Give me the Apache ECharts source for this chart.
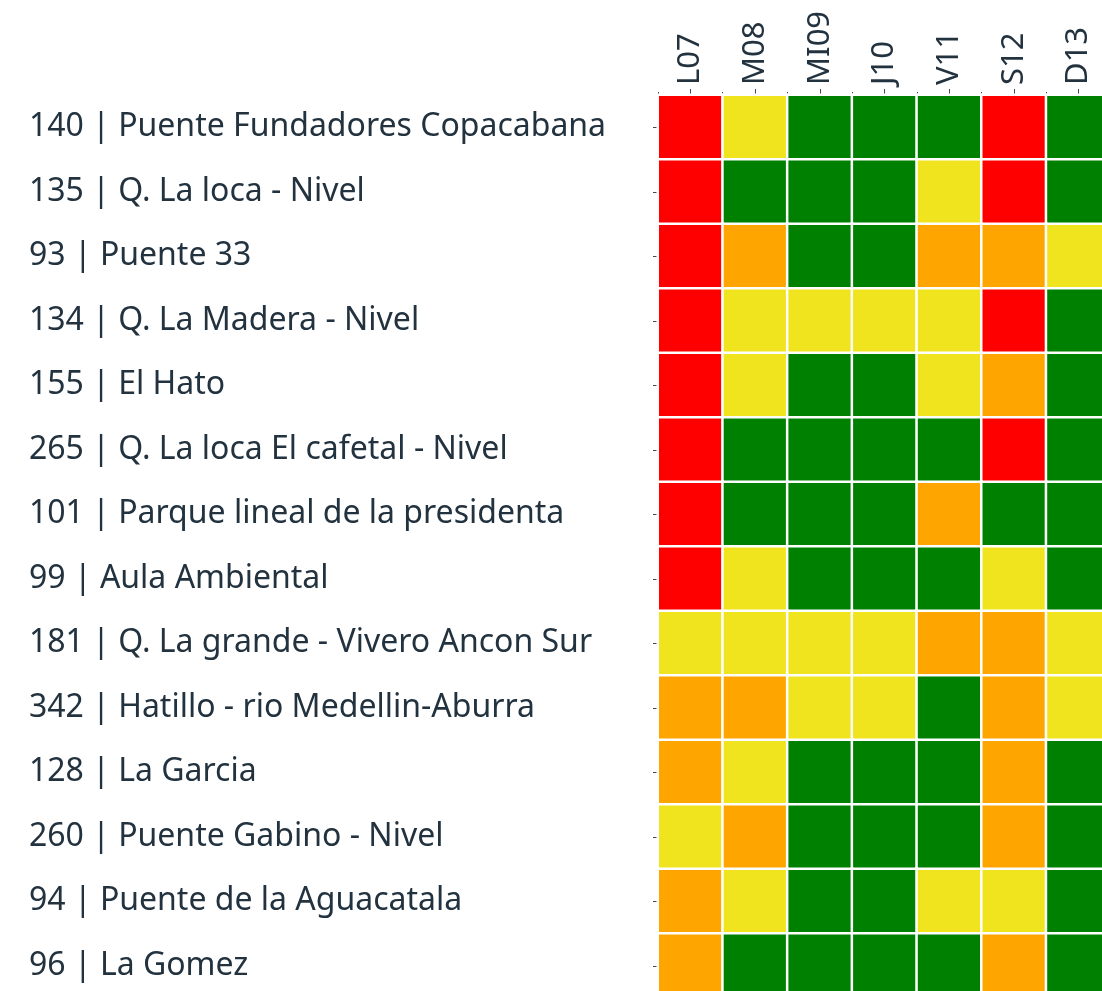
<!DOCTYPE html>
<html><head><meta charset="utf-8">
<script src="https://cdn.jsdelivr.net/npm/echarts@6/dist/echarts.min.js"></script>
<style>html,body{margin:0;padding:0;background:#fff}#c{width:1102px;height:991px}</style>
</head><body><div id="c"></div>
<script>
const days = ['L07','M08','MI09','J10','V11','S12','D13'];
const stations = [
  '140 | Puente Fundadores Copacabana',
  '135 | Q. La loca - Nivel',
  '93 | Puente 33',
  '134 | Q. La Madera - Nivel',
  '155 | El Hato',
  '265 | Q. La loca El cafetal - Nivel',
  '101 | Parque lineal de la presidenta',
  '99 | Aula Ambiental',
  '181 | Q. La grande - Vivero Ancon Sur',
  '342 | Hatillo - rio Medellin-Aburra',
  '128 | La Garcia',
  '260 | Puente Gabino - Nivel',
  '94 | Puente de la Aguacatala',
  '96 | La Gomez'
];
// 0 = green, 1 = yellow, 2 = orange, 3 = red
const levels = [
  [3,1,0,0,0,3,0],
  [3,0,0,0,1,3,0],
  [3,2,0,0,2,2,1],
  [3,1,1,1,1,3,0],
  [3,1,0,0,1,2,0],
  [3,0,0,0,0,3,0],
  [3,0,0,0,2,0,0],
  [3,1,0,0,0,1,0],
  [1,1,1,1,2,2,1],
  [2,2,1,1,0,2,1],
  [2,1,0,0,0,2,0],
  [1,2,0,0,0,2,0],
  [2,1,0,0,1,1,0],
  [2,0,0,0,0,2,0]
];
const levelColors = ['#008000','#f0e41e','#ffa500','#ff0000'];

const data = [];
levels.forEach((row, r) => row.forEach((v, c) => data.push([c, r, v])));

const txt = '#22323f';
const font = '"Noto Sans", sans-serif';
const chart = echarts.init(document.getElementById('c'), null, {renderer:'canvas'});
chart.setOption({
  animation:false,
  grid:[{left:658, top:95, width:7*64.7, height:14*64.5, containLabel:false, outerBoundsMode:'none'}],
  xAxis:[
    {type:'category', data:days, position:'top', gridIndex:0,
     axisLine:{show:true, lineStyle:{color:'#3a4a5a', width:1}},
     axisTick:{show:true, alignWithLabel:true, length:6, lineStyle:{color:'#3a4a5a'}},
     axisLabel:{rotate:-90, fontSize:31, color:txt, fontFamily:font, margin:10},
     splitLine:{show:false}},
    {type:'category', data:days, position:'top', gridIndex:0,
     axisLine:{show:false},
     axisTick:{show:true, alignWithLabel:false, length:3, lineStyle:{color:'#3a4a5a'}},
     axisLabel:{show:false}, splitLine:{show:false}}
  ],
  yAxis:[
    {type:'category', data:stations, inverse:true, gridIndex:0,
     axisLine:{show:true, lineStyle:{color:'#3a4a5a', width:1}},
     axisTick:{show:true, alignWithLabel:true, length:5, lineStyle:{color:'#3a4a5a'}},
     axisLabel:{fontSize:32, color:txt, fontFamily:font, align:'left', margin:629, padding:[6,0,0,0]},
     splitLine:{show:false}},
    {type:'category', data:stations, inverse:true, gridIndex:0,
     axisLine:{show:false},
     axisTick:{show:true, alignWithLabel:false, length:3, lineStyle:{color:'#3a4a5a'}},
     axisLabel:{show:false}, splitLine:{show:false}}
  ],
  visualMap:{show:false, type:'piecewise', dimension:2,
    pieces:levelColors.map((c,i)=>({value:i, color:c}))},
  series:[{type:'heatmap', data:data, xAxisIndex:0, yAxisIndex:0,
    itemStyle:{borderColor:'#ffffff', borderWidth:2.5}}]
});
</script></body></html>
